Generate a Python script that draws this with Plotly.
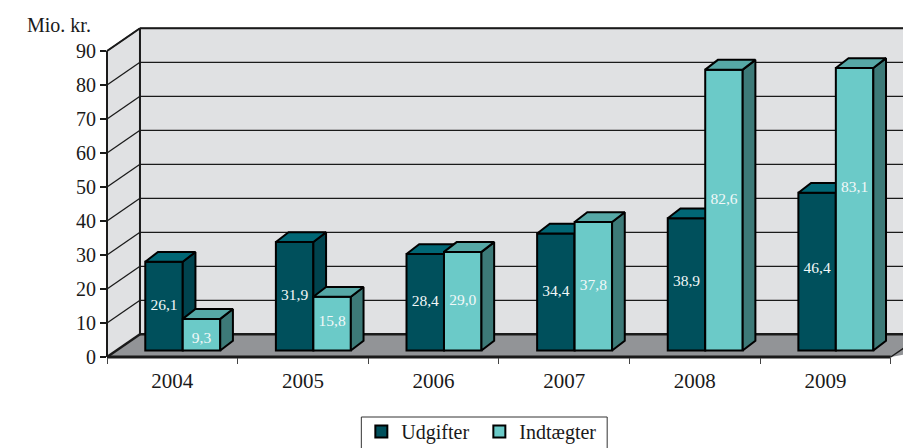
import plotly.graph_objects as go

years = ["2004", "2005", "2006", "2007", "2008", "2009"]
udgifter = [26.1, 31.9, 28.4, 34.4, 38.9, 46.4]
indtaegter = [9.3, 15.8, 29.0, 37.8, 82.6, 83.1]
udgifter_labels = ["26,1", "31,9", "28,4", "34,4", "38,9", "46,4"]
indtaegter_labels = ["9,3", "15,8", "29,0", "37,8", "82,6", "83,1"]
y_ticks = [0, 10, 20, 30, 40, 50, 60, 70, 80, 90]
label_nudge_u = [0, 0, 0, 0, 0.8, 0.6]
label_nudge_i = [-1.2, 0.5, 0, 0, 3, 6.2]

W, H = 903, 448
L, B, T = 106.5, 91, 10
PX_CAT = 130.7
PX_VAL = 3.4
xmax = (W - L) / PX_CAT
ymax = (H - B - T) / PX_VAL
WALL_X, WALL_Y = 33 / PX_CAT, 22.7 / PX_VAL
DEPTH_X, DEPTH_Y = 12.7 / PX_CAT, 9.8 / PX_VAL
BASE = 6.5 / PX_VAL
BAR_W = 37.5 / PX_CAT
START = 38.3 / PX_CAT
FAR = 7.0
FONT = "Liberation Serif"
INK = "#1a1a1a"

C_U, C_U_SIDE, C_U_TOP = "#00505C", "#00434E", "#016775"
C_I, C_I_SIDE, C_I_TOP = "#6BCAC8", "#3D7A78", "#56A8A6"


def px(x):
    return x / xmax


def py(y):
    return y / ymax


def poly(points):
    return "M" + " L".join(f"{px(a):.5f},{py(b):.5f}" for a, b in points) + " Z"


def shape_poly(points, fill):
    return dict(type="path", path=poly(points), xref="paper", yref="paper",
                fillcolor=fill, line=dict(width=0), layer="below")


def seg(p, q, w):
    return dict(type="line", xref="paper", yref="paper", x0=px(p[0]), y0=py(p[1]),
                x1=px(q[0]), y1=py(q[1]), line=dict(color=INK, width=w), layer="below")


top = max(y_ticks)
shapes = [
    shape_poly([(0, 0), (WALL_X, WALL_Y), (WALL_X, top + WALL_Y), (0, top)], "#E0E1E3"),
    shape_poly([(WALL_X, WALL_Y), (FAR, WALL_Y), (FAR, top + WALL_Y), (WALL_X, top + WALL_Y)], "#E0E1E3"),
    shape_poly([(0, 0), (WALL_X, WALL_Y), (FAR, WALL_Y), (6, 0)], "#929497"),
]
for t in y_ticks[1:]:
    shapes.append(seg((0, t), (WALL_X, t + WALL_Y), 1.3))
    shapes.append(seg((WALL_X, t + WALL_Y), (FAR, t + WALL_Y), 1.3))
shapes += [
    seg((WALL_X, WALL_Y), (FAR, WALL_Y), 2.5),
    seg((0, 0), (WALL_X, WALL_Y), 2.5),
    seg((WALL_X, WALL_Y), (WALL_X, top + WALL_Y), 2),
    seg((0, top), (WALL_X, top + WALL_Y), 2),
    seg((WALL_X, top + WALL_Y), (FAR, top + WALL_Y), 2),
    seg((0, 0), (0, top), 2),
    seg((0, 0), (6, 0), 3),
    seg((6, 0), (FAR, (FAR - 6) * WALL_Y / WALL_X), 1.5),
]
# legend frame, running off the lower page edge as in the reference
frame_l, frame_r, frame_t = (361 - L) / (W - L), (607 - L) / (W - L), -(417 - (H - B)) / (H - B - T)
shapes.append(dict(type="rect", xref="paper", yref="paper", x0=frame_l, x1=frame_r,
                   y0=frame_t - 0.2, y1=frame_t, line=dict(color="#333", width=1),
                   fillcolor="white", layer="below"))


def faces(values, first):
    side_x, side_y, top_x, top_y = [], [], [], []
    for i, v in enumerate(values):
        l = i + START + (BAR_W if not first else 0)
        r = l + BAR_W
        b, t = BASE, BASE + v
        side_x += [r, r + DEPTH_X, r + DEPTH_X, r, r, None]
        side_y += [b, b + DEPTH_Y, t + DEPTH_Y, t, b, None]
        top_x += [l, l + DEPTH_X, r + DEPTH_X, r, l, None]
        top_y += [t, t + DEPTH_Y, t + DEPTH_Y, t, t, None]
    return side_x, side_y, top_x, top_y


def add_series(name, values, first, front, side, roof, xa, ya):
    xs = [i + START + BAR_W * (0.5 if first else 1.5) for i in range(len(values))]
    fig.add_trace(go.Bar(x=xs, y=values, base=BASE, width=BAR_W, name=name,
                         marker=dict(color=front, line=dict(color="black", width=2)),
                         xaxis=xa, yaxis=ya, hoverinfo="skip"))
    sx, sy, tx, ty = faces(values, first)
    for X, Y, c in ((sx, sy, side), (tx, ty, roof)):
        fig.add_trace(go.Scatter(x=X, y=Y, mode="lines", fill="toself", fillcolor=c,
                                 line=dict(color="black", width=2), showlegend=False,
                                 xaxis=xa, yaxis=ya, hoverinfo="skip"))
    return xs


fig = go.Figure()
xs_u = add_series("Udgifter", udgifter, True, C_U, C_U_SIDE, C_U_TOP, "x", "y")
xs_i = add_series("Indtægter", indtaegter, False, C_I, C_I_SIDE, C_I_TOP, "x2", "y2")

fig.add_trace(go.Scatter(
    x=xs_u + xs_i,
    y=[BASE + v / 2 + n for v, n in zip(udgifter, label_nudge_u)]
      + [BASE + v / 2 + n for v, n in zip(indtaegter, label_nudge_i)],
    text=udgifter_labels + indtaegter_labels,
    mode="text", textposition="middle center",
    textfont=dict(family=FONT, size=15.5, color="#F2F8F8"),
    showlegend=False, xaxis="x2", yaxis="y2", hoverinfo="skip"))

fig.update_layout(
    width=W, height=H,
    margin=dict(l=L, r=0, t=T, b=B, autoexpand=False, pad=0),
    paper_bgcolor="white", plot_bgcolor="rgba(0,0,0,0)",
    font=dict(family=FONT, size=20, color=INK),
    barmode="overlay", shapes=shapes,
    xaxis=dict(range=[0, xmax], tickvals=list(range(len(years) + 1)), showticklabels=False,
               ticks="outside", ticklen=6, tickwidth=1, tickcolor="#444",
               showgrid=False, zeroline=False, showline=False, fixedrange=True),
    yaxis=dict(range=[0, ymax], tickvals=y_ticks, ticks="outside", ticklen=6, tickwidth=1.5,
               tickcolor=INK, showgrid=False, zeroline=False, showline=False,
               tickfont=dict(size=20, family=FONT, color=INK), fixedrange=True),
    xaxis2=dict(range=[0, xmax], overlaying="x", anchor="y2", side="bottom",
                tickvals=[i + 0.5 for i in range(len(years))], ticktext=years,
                ticks="outside", ticklen=5, tickcolor="rgba(0,0,0,0)",
                tickfont=dict(size=21, family=FONT, color=INK),
                showgrid=False, zeroline=False, showline=False, fixedrange=True),
    yaxis2=dict(range=[0, ymax], overlaying="y", anchor="x2", visible=False, fixedrange=True),
    legend=dict(orientation="h", x=frame_l, y=-(412 - (H - B)) / (H - B - T),
                xanchor="left", yanchor="top", borderwidth=0, entrywidth=73,
                entrywidthmode="pixels", bgcolor="rgba(0,0,0,0)",
                font=dict(size=20, family=FONT, color=INK), traceorder="normal"),
    annotations=[dict(text="Mio. kr.", xref="paper", yref="paper", x=px(-14 / PX_CAT),
                      y=py((H - B - 25) / PX_VAL), xanchor="right", yanchor="middle",
                      showarrow=False, font=dict(size=20, family=FONT, color=INK))],
)
fig.write_html("out.html", config={"displayModeBar": False},
               post_script="document.body.style.margin='0';document.body.style.overflow='hidden';")
